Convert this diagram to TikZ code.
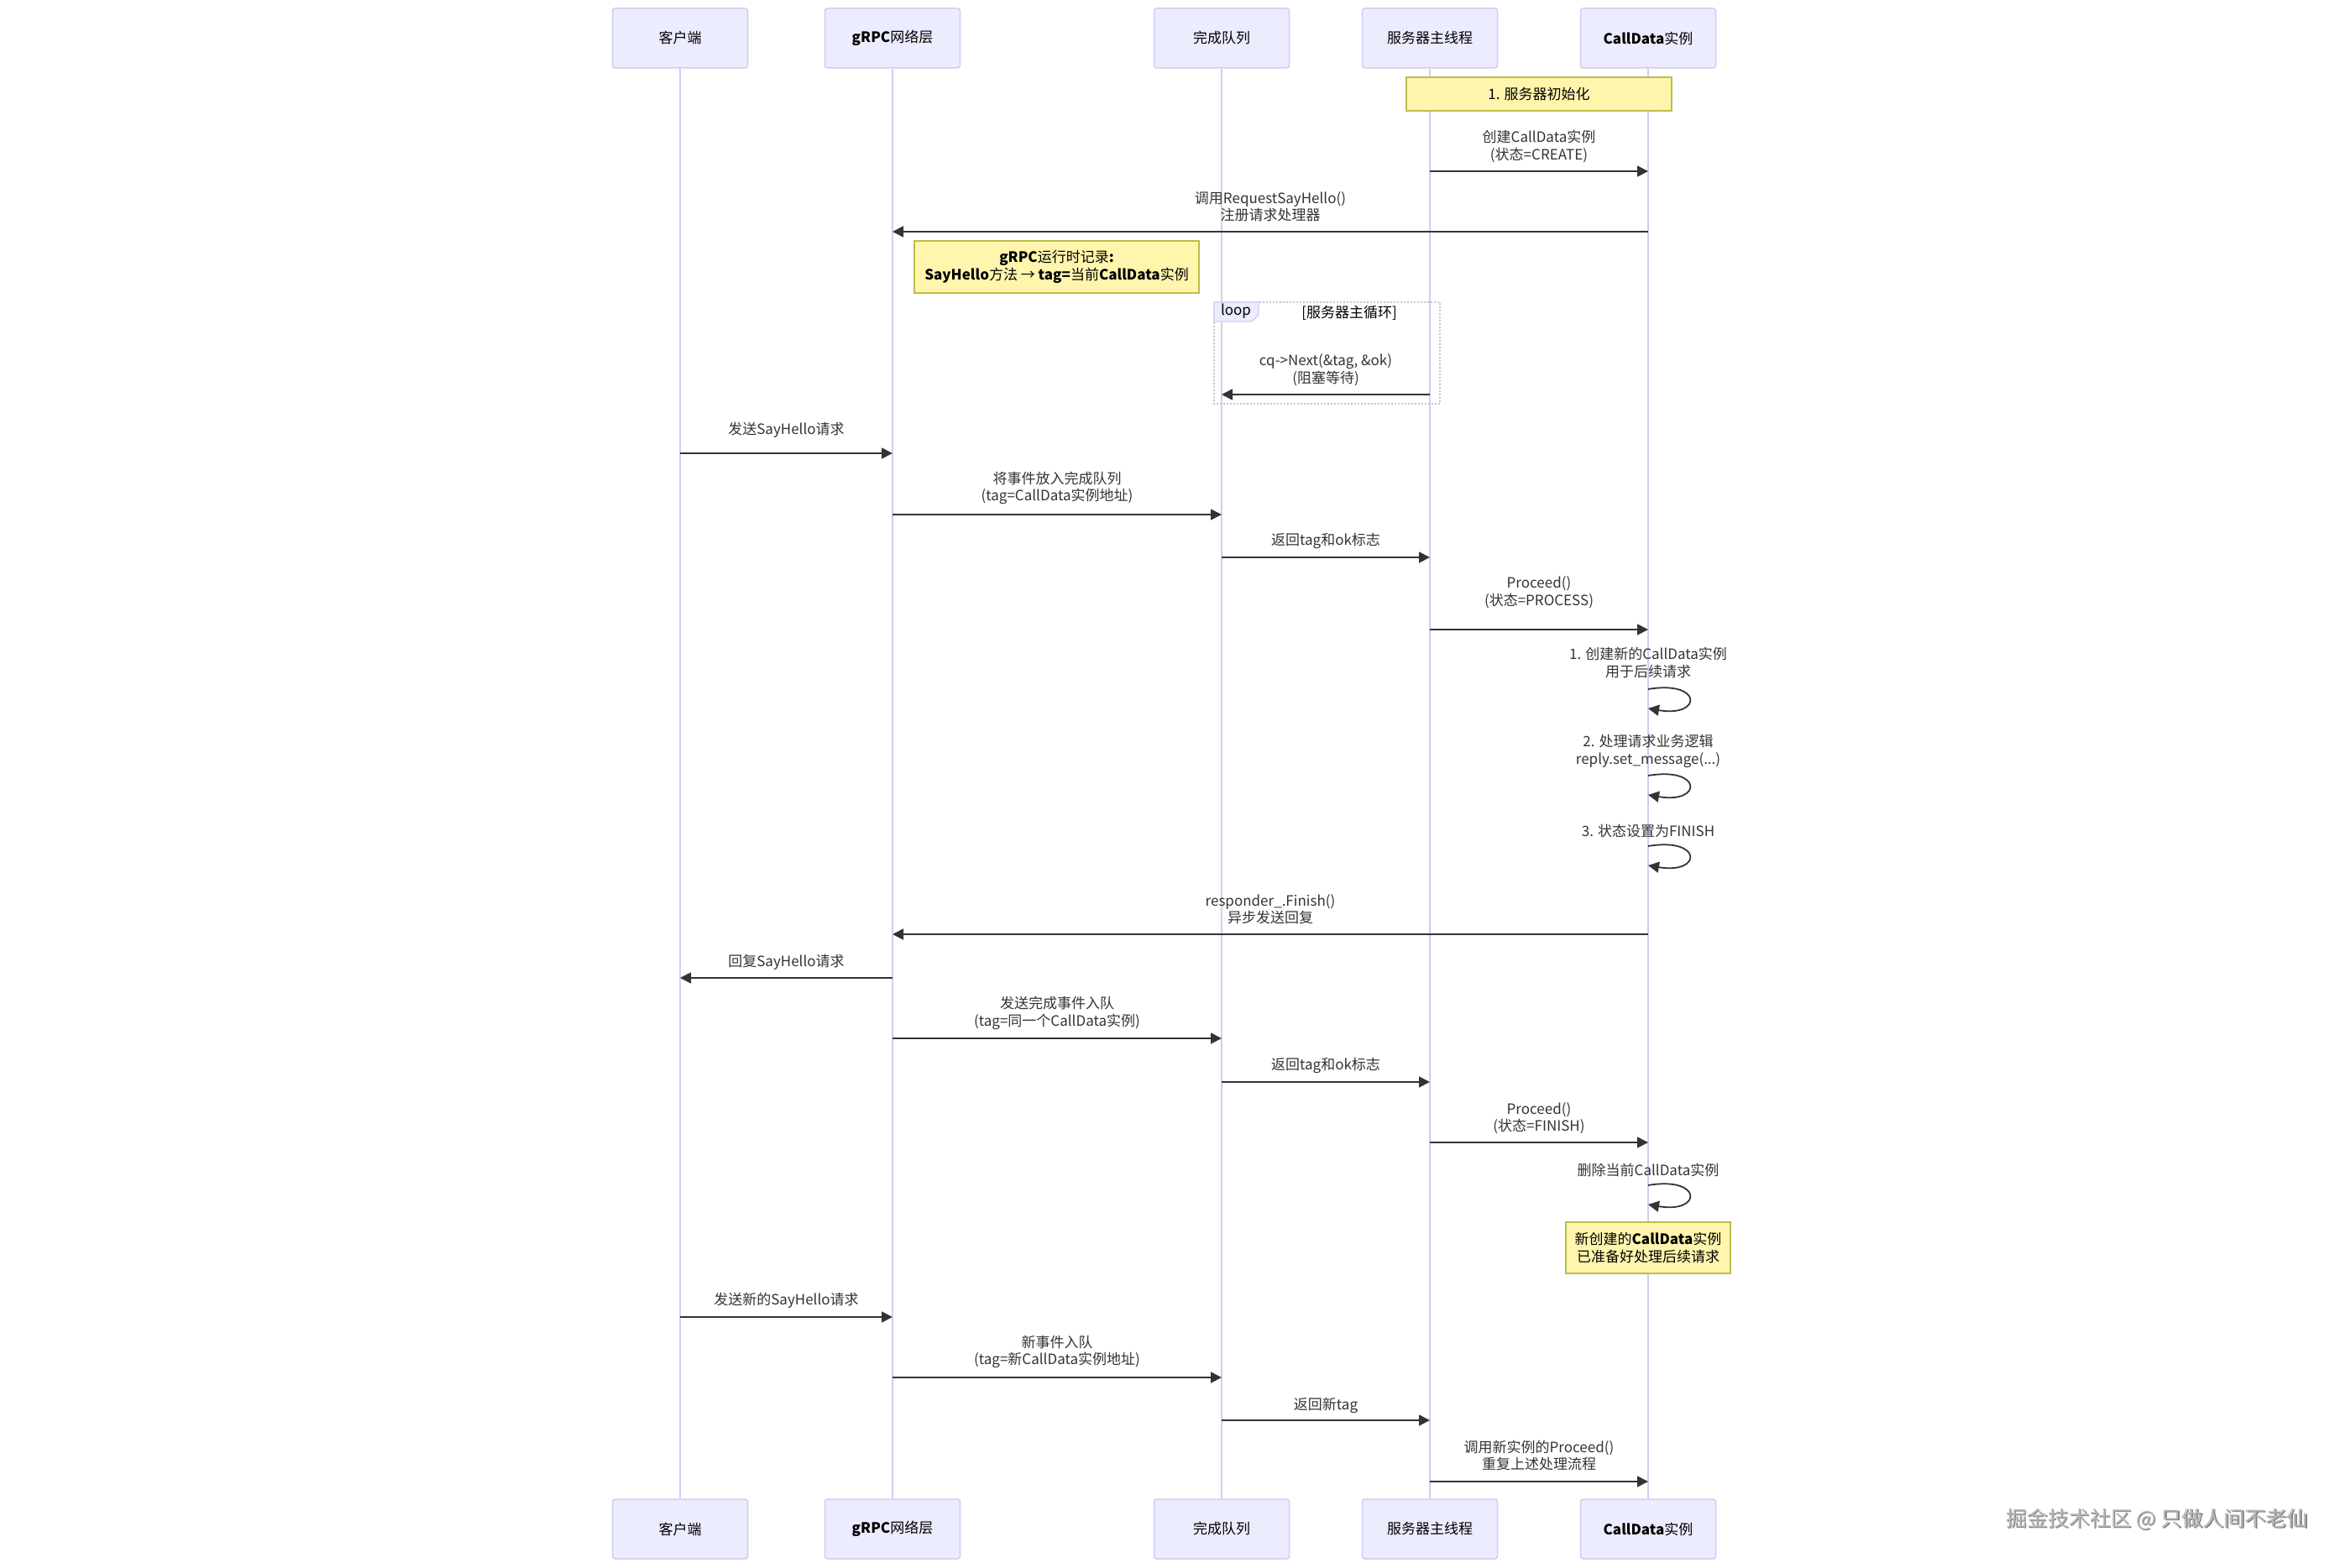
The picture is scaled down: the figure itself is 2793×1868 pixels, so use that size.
\documentclass[tikz,border=0pt]{standalone}
\usepackage{fontspec}
\setmainfont{Noto Sans CJK SC}
\usetikzlibrary{arrows.meta}
\definecolor{actfill}{HTML}{ECECFF}
\definecolor{actline}{HTML}{D2CCF2}
\definecolor{msg}{HTML}{333333}
\definecolor{notefill}{HTML}{FFF5AD}
\definecolor{noteline}{HTML}{BDBD4A}
\definecolor{loopline}{HTML}{C4C4DA}
\def\xC{810}
\def\xG{1063}
\def\xQ{1455}
\def\xS{1703}
\def\xD{1963}
\newcommand{\fs}{\fontsize{17}{20.5}\selectfont}
\begin{document}
\begin{tikzpicture}[x=1pt,y=-1pt,
  actor/.style={draw=actline, fill=actfill, line width=1.5pt, rounded corners=3pt,
    minimum width=161pt, minimum height=71pt, inner sep=0pt, font=\fs, text=black},
  lifeline/.style={draw=actline, line width=1.5pt},
  msgline/.style={draw=msg, line width=1.8pt, -{Triangle[length=13pt,width=13pt]}},
  lbl/.style={font=\fs, text=msg, align=center, inner sep=0pt},
  notebox/.style={draw=noteline, fill=notefill, line width=1.5pt, font=\fs, text=black,
    align=center, inner sep=0pt},
  loopframe/.style={draw=loopline, line width=1.5pt, dash pattern=on 2pt off 2pt},
  looptag/.style={draw=actline, fill=actfill, line width=1.2pt},
  wmark/.style={font=\fontsize{25}{28}\selectfont, inner sep=0pt}
]
\useasboundingbox (0,0) rectangle (2793,1868);

% actors top
\node[actor] (cT) at (\xC,45.5) {客户端};
\node[actor] (gT) at (\xG,45.5) {\textbf{gRPC}网络层};
\node[actor] (qT) at (\xQ,45.5) {完成队列};
\node[actor] (sT) at (\xS,45.5) {服务器主线程};
\node[actor] (dT) at (\xD,45.5) {\textbf{CallData}实例};
% actors bottom
\node[actor] (cB) at (\xC,1821.5) {客户端};
\node[actor] (gB) at (\xG,1821.5) {\textbf{gRPC}网络层};
\node[actor] (qB) at (\xQ,1821.5) {完成队列};
\node[actor] (sB) at (\xS,1821.5) {服务器主线程};
\node[actor] (dB) at (\xD,1821.5) {\textbf{CallData}实例};
% lifelines
\draw[lifeline] (cT) -- (cB);
\draw[lifeline] (gT) -- (gB);
\draw[lifeline] (qT) -- (qB);
\draw[lifeline] (sT) -- (sB);
\draw[lifeline] (dT) -- (dB);

% note 1
\node[notebox, minimum width=316pt, minimum height=40pt] (n1) at (1833,112) {1. 服务器初始化};

% m1
\coordinate (m1a) at (\xS,204); \coordinate (m1b) at (\xD,204);
\draw[msgline] (m1a) -- (m1b);
\node[lbl] (l1) at (1833,174.5) {创建CallData实例\\(状态=CREATE)};
% m2
\coordinate (m2a) at (\xD,276); \coordinate (m2b) at (\xG,276);
\draw[msgline] (m2a) -- (m2b);
\node[lbl] (l2) at (1513,246.5) {调用RequestSayHello()\\注册请求处理器};

% note 2
\node[notebox, minimum width=339pt, minimum height=62pt] (n2) at (1258.5,318)
  {\textbf{gRPC}运行时记录\textbf{:}\\\textbf{SayHello}方法 → \textbf{tag=}当前\textbf{CallData}实例};

% loop frame
\draw[loopframe] (1446,360) rectangle (1715,481);
\draw[looptag] (1446,360) -- (1499,360) -- (1499,375) -- (1491,383) -- (1446,383) -- cycle;
\node[lbl, text=black] (looplbl) at (1472,371) {loop};
\node[lbl, text=black] (loopcond) at (1607,373) {[服务器主循环]};

% m3
\coordinate (m3a) at (\xS,470); \coordinate (m3b) at (\xQ,470);
\draw[msgline] (m3a) -- (m3b);
\node[lbl] (l3) at (1579,440.5) {cq->Next(\&tag, \&ok)\\(阻塞等待)};

% m4
\coordinate (m4a) at (\xC,540); \coordinate (m4b) at (\xG,540);
\draw[msgline] (m4a) -- (m4b);
\node[lbl] (l4) at (936.5,512) {发送SayHello请求};
% m5
\coordinate (m5a) at (\xG,613); \coordinate (m5b) at (\xQ,613);
\draw[msgline] (m5a) -- (m5b);
\node[lbl] (l5) at (1259,581.5) {将事件放入完成队列\\(tag=CallData实例地址)};
% m6
\coordinate (m6a) at (\xQ,664); \coordinate (m6b) at (\xS,664);
\draw[msgline] (m6a) -- (m6b);
\node[lbl] (l6) at (1579,644) {返回tag和ok标志};
% m7
\coordinate (m7a) at (\xS,750); \coordinate (m7b) at (\xD,750);
\draw[msgline] (m7a) -- (m7b);
\node[lbl] (l7) at (1833,705.5) {Proceed()\\(状态=PROCESS)};

% self 1
\coordinate (s1a) at (\xD,821); \coordinate (s1b) at (\xD,844);
\draw[msgline] (s1a) .. controls +(65,-11) and +(65,11) .. (s1b);
\node[lbl] (ls1) at (\xD,789.5) {1. 创建新的CallData实例\\用于后续请求};
% self 2
\coordinate (s2a) at (\xD,924); \coordinate (s2b) at (\xD,947);
\draw[msgline] (s2a) .. controls +(65,-11) and +(65,11) .. (s2b);
\node[lbl] (ls2) at (\xD,895) {2. 处理请求业务逻辑\\reply.set\_message(...)};
% self 3
\coordinate (s3a) at (\xD,1008); \coordinate (s3b) at (\xD,1031);
\draw[msgline] (s3a) .. controls +(65,-11) and +(65,11) .. (s3b);
\node[lbl] (ls3) at (\xD,990) {3. 状态设置为FINISH};

% m8
\coordinate (m8a) at (\xD,1113); \coordinate (m8b) at (\xG,1113);
\draw[msgline] (m8a) -- (m8b);
\node[lbl] (l8) at (1513,1083) {responder\_.Finish()\\异步发送回复};
% m9
\coordinate (m9a) at (\xG,1165); \coordinate (m9b) at (\xC,1165);
\draw[msgline] (m9a) -- (m9b);
\node[lbl] (l9) at (936.5,1146) {回复SayHello请求};
% m10
\coordinate (m10a) at (\xG,1237); \coordinate (m10b) at (\xQ,1237);
\draw[msgline] (m10a) -- (m10b);
\node[lbl] (l10) at (1259,1207) {发送完成事件入队\\(tag=同一个CallData实例)};
% m11
\coordinate (m11a) at (\xQ,1289); \coordinate (m11b) at (\xS,1289);
\draw[msgline] (m11a) -- (m11b);
\node[lbl] (l11) at (1579,1269) {返回tag和ok标志};
% m12
\coordinate (m12a) at (\xS,1361); \coordinate (m12b) at (\xD,1361);
\draw[msgline] (m12a) -- (m12b);
\node[lbl] (l12) at (1833,1332) {Proceed()\\(状态=FINISH)};
% self 4
\coordinate (s4a) at (\xD,1412); \coordinate (s4b) at (\xD,1435);
\draw[msgline] (s4a) .. controls +(65,-11) and +(65,11) .. (s4b);
\node[lbl] (ls4) at (\xD,1394) {删除当前CallData实例};

% note 3
\node[notebox, minimum width=196pt, minimum height=61pt] (n3) at (\xD,1486.5)
  {新创建的\textbf{CallData}实例\\已准备好处理后续请求};

% m13
\coordinate (m13a) at (\xC,1569); \coordinate (m13b) at (\xG,1569);
\draw[msgline] (m13a) -- (m13b);
\node[lbl] (l13) at (936.5,1549) {发送新的SayHello请求};
% m14
\coordinate (m14a) at (\xG,1641); \coordinate (m14b) at (\xQ,1641);
\draw[msgline] (m14a) -- (m14b);
\node[lbl] (l14) at (1259,1610.5) {新事件入队\\(tag=新CallData实例地址)};
% m15
\coordinate (m15a) at (\xQ,1692); \coordinate (m15b) at (\xS,1692);
\draw[msgline] (m15a) -- (m15b);
\node[lbl] (l15) at (1579,1674) {返回新tag};
% m16
\coordinate (m16a) at (\xS,1765); \coordinate (m16b) at (\xD,1765);
\draw[msgline] (m16a) -- (m16b);
\node[lbl] (l16) at (1833,1734) {调用新实例的Proceed()\\重复上述处理流程};

% watermark
\node[wmark, text=black!50] (wm0) at (2570.2,1811.2) {掘金技术社区 @ 只做人间不老仙};
\node[wmark, text=black!28] (wm) at (2569,1810) {掘金技术社区 @ 只做人间不老仙};
\end{tikzpicture}
\end{document}
